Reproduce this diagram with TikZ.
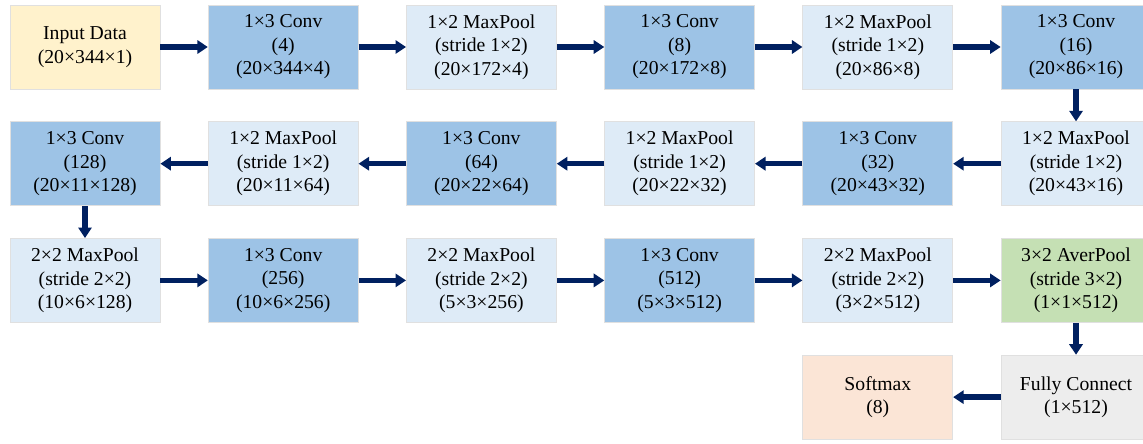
\documentclass[tikz,border=0pt]{standalone}
\usepackage{fontspec}
\setmainfont{Liberation Serif}
\usetikzlibrary{arrows.meta, positioning}
\definecolor{inputc}{RGB}{255,242,204}
\definecolor{convc}{RGB}{157,195,230}
\definecolor{poolc}{RGB}{222,235,247}
\definecolor{averc}{RGB}{197,224,180}
\definecolor{fullc}{RGB}{237,237,237}
\definecolor{softc}{RGB}{251,229,214}
\definecolor{navy}{RGB}{0,32,96}

\begin{document}
\begin{tikzpicture}[
  box/.style={draw=black!12, line width=0.4pt, fill=#1, minimum width=3cm, minimum height=1.68cm,
    inner sep=0pt, align=center, font=\fontsize{11.2}{13.4}\selectfont},
  arr/.style={-{Triangle[length=6pt, width=7.5pt]}, line width=3.1pt, navy},
  node distance=0.64cm and 0.95cm,
]
\useasboundingbox (0,0) rectangle (22.86,-8.86);
% Row 1 (left to right)
\node[box=inputc] (in) at (1.7,-0.94) {Input Data\\(20×344×1)};
\node[box=convc, right=of in] (c1) {1×3 Conv\\(4)\\(20×344×4)};
\node[box=poolc, right=of c1] (p1) {1×2 MaxPool\\(stride 1×2)\\(20×172×4)};
\node[box=convc, right=of p1] (c2) {1×3 Conv\\(8)\\(20×172×8)};
\node[box=poolc, right=of c2] (p2) {1×2 MaxPool\\(stride 1×2)\\(20×86×8)};
\node[box=convc, right=of p2] (c3) {1×3 Conv\\(16)\\(20×86×16)};
% Row 2 (right to left)
\node[box=poolc, below=of c3] (p3) {1×2 MaxPool\\(stride 1×2)\\(20×43×16)};
\node[box=convc, left=of p3] (c4) {1×3 Conv\\(32)\\(20×43×32)};
\node[box=poolc, left=of c4] (p4) {1×2 MaxPool\\(stride 1×2)\\(20×22×32)};
\node[box=convc, left=of p4] (c5) {1×3 Conv\\(64)\\(20×22×64)};
\node[box=poolc, left=of c5] (p5) {1×2 MaxPool\\(stride 1×2)\\(20×11×64)};
\node[box=convc, left=of p5] (c6) {1×3 Conv\\(128)\\(20×11×128)};
% Row 3 (left to right)
\node[box=poolc, below=of c6] (p6) {2×2 MaxPool\\(stride 2×2)\\(10×6×128)};
\node[box=convc, right=of p6] (c7) {1×3 Conv\\(256)\\(10×6×256)};
\node[box=poolc, right=of c7] (p7) {2×2 MaxPool\\(stride 2×2)\\(5×3×256)};
\node[box=convc, right=of p7] (c8) {1×3 Conv\\(512)\\(5×3×512)};
\node[box=poolc, right=of c8] (p8) {2×2 MaxPool\\(stride 2×2)\\(3×2×512)};
\node[box=averc, right=of p8] (ap) {3×2 AverPool\\(stride 3×2)\\(1×1×512)};
% Row 4
\node[box=fullc, below=of ap] (fc) {Fully Connect\\(1×512)};
\node[box=softc, left=of fc] (sm) {Softmax\\(8)};

% Arrows
\draw[arr] (in) -- (c1);
\draw[arr] (c1) -- (p1);
\draw[arr] (p1) -- (c2);
\draw[arr] (c2) -- (p2);
\draw[arr] (p2) -- (c3);
\draw[arr] (c3) -- (p3);
\draw[arr] (p3) -- (c4);
\draw[arr] (c4) -- (p4);
\draw[arr] (p4) -- (c5);
\draw[arr] (c5) -- (p5);
\draw[arr] (p5) -- (c6);
\draw[arr] (c6) -- (p6);
\draw[arr] (p6) -- (c7);
\draw[arr] (c7) -- (p7);
\draw[arr] (p7) -- (c8);
\draw[arr] (c8) -- (p8);
\draw[arr] (p8) -- (ap);
\draw[arr] (ap) -- (fc);
\draw[arr] (fc) -- (sm);
\end{tikzpicture}
\end{document}
